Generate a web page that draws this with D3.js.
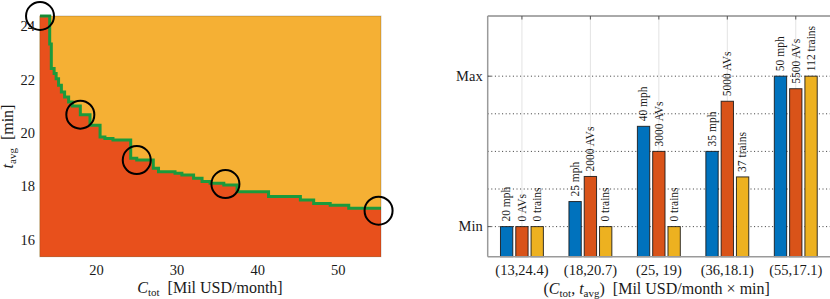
<!DOCTYPE html>
<html><head><meta charset="utf-8">
<script src="https://cdn.jsdelivr.net/npm/d3@7"></script>
<style>
body{margin:0;background:#fff;}
svg{display:block;}
svg text{font-family:'Liberation Serif','DejaVu Serif',serif;}
</style></head><body>
<svg id="c" width="830" height="299" font-family="Liberation Serif, DejaVu Serif, serif"></svg>
<script>
// ---- Left panel data (Pareto front, step) ----
const frontCost = [13.0,14.2,14.4,14.75,15.0,15.3,15.65,16.05,16.55,17.0,18.0,19.2,20.45,21.05,22.05,24.25,25.0,27.05,27.7,29.75,30.6,32.05,33.1,34.1,35.8,37.45,41.35,45.3,46.95,49.0,51.3,55.3];
const frontTime = [24.4,23.35,22.43,22.24,22.05,21.8,21.55,21.36,21.18,21.03,20.7,20.3,19.86,19.81,19.75,19.07,19.0,18.69,18.56,18.5,18.44,18.32,18.19,18.13,18.06,17.81,17.63,17.5,17.37,17.3,17.19,17.19];
const highlightCost = [13,18,25,36,55];
const highlightTime = [24.4,20.7,19,18.1,17.1];
const leftXTicks = [20,30,40,50];
const leftYTicks = [16,18,20,22,24];

// ---- Right panel data ----
const groupLabels = ["(13,24.4)","(18,20.7)","(25, 19)","(36,18.1)","(55,17.1)"];
const speeds = [20,25,40,35,50];
const avs = [0,2000,3000,5000,5500];
const trains = [0,0,0,37,112];
const speedRange = [20,50], avRange = [0,6000], trainRange = [0,112];
const rightYTicks = [0,1];
const rightYTickLabels = ["Min","Max"];
const rightGrid = [0,0.25,0.5,0.75,1];

const FONT = "Liberation Serif, DejaVu Serif, serif";
const svg = d3.select("#c");
const txt = "#1a1a1a";

// ================= LEFT =================
const x = d3.scaleLinear().domain([12.96,55.3]).range([39.7,381]);
const y = d3.scaleLinear().domain([15.375,24.4]).range([256.7,16]);
const L = svg.append("g");
const front = frontCost.map((c,i)=>[c,frontTime[i]]);

L.append("rect").attr("x",x.range()[0]).attr("y",y.range()[1])
 .attr("width",x.range()[1]-x.range()[0]).attr("height",y.range()[0]-y.range()[1])
 .attr("fill","#F5B034");
L.append("path").datum(front)
 .attr("d",d3.area().curve(d3.curveStepAfter).x(d=>x(d[0])).y0(y.range()[0]).y1(d=>y(d[1])))
 .attr("fill","#E8501C");
L.append("path").datum(front)
 .attr("d",d3.line().curve(d3.curveStepAfter).x(d=>x(d[0])).y(d=>y(d[1])))
 .attr("fill","none").attr("stroke","#1B9A3C").attr("stroke-width",3);
L.append("rect").attr("x",x.range()[0]).attr("y",y.range()[1])
 .attr("width",x.range()[1]-x.range()[0]).attr("height",y.range()[0]-y.range()[1])
 .attr("fill","none").attr("stroke","rgba(0,0,0,0.2)").attr("stroke-width",1);
L.selectAll("circle.h").data(highlightCost).join("circle")
 .attr("cx",d=>x(d)).attr("cy",(d,i)=>y(highlightTime[i])).attr("r",14)
 .attr("fill","none").attr("stroke","#000").attr("stroke-width",2);

L.selectAll("text.xt").data(leftXTicks).join("text")
 .attr("x",d=>x(d)).attr("y",275).attr("text-anchor","middle").attr("font-family",FONT)
 .attr("font-size",14.5).attr("fill",txt).text(d=>d);
L.selectAll("text.yt").data(leftYTicks).join("text")
 .attr("x",35).attr("y",d=>y(d)).attr("dy","0.33em").attr("text-anchor","end").attr("font-family",FONT)
 .attr("font-size",14.5).attr("fill",txt).text(d=>d);

const xl = L.append("text").attr("x",210).attr("y",293).attr("text-anchor","middle").attr("font-family",FONT)
 .attr("font-size",16).attr("fill",txt);
xl.append("tspan").attr("font-style","italic").text("C");
xl.append("tspan").attr("font-size",11).attr("dy",3).text("tot");
xl.append("tspan").attr("dy",-3).text("\u2002[Mil USD/month]");

const yl = L.append("text").attr("transform","translate(13,136.5) rotate(-90)").attr("font-family",FONT)
 .attr("text-anchor","middle").attr("font-size",16).attr("fill",txt);
yl.append("tspan").attr("font-style","italic").text("t");
yl.append("tspan").attr("font-size",11).attr("dy",3).text("avg");
yl.append("tspan").attr("dy",-3).text("\u2002[min]");

// ================= RIGHT =================
const xr = d3.scaleLinear().domain([0.5,5.5]).range([487.7,830]);
const yr = d3.scaleLinear().domain([-0.2,1.4]).range([256.7,16]);
const inner = d3.scalePoint().domain([0,1,2]).range([-0.2234,0.2234]);
const bw = xr(0.18)-xr(0);
const R = svg.append("g");
const groups = groupLabels.map((g,i)=>i+1);

R.selectAll("line.vg").data(groups).join("line")
 .attr("x1",d=>xr(d)).attr("x2",d=>xr(d)).attr("y1",yr.range()[1]).attr("y2",yr.range()[0])
 .attr("stroke","#e3e3e3").attr("stroke-width",1);
R.selectAll("line.hg").data(rightGrid).join("line")
 .attr("x1",xr.range()[0]).attr("x2",xr.range()[1]).attr("y1",d=>yr(d)).attr("y2",d=>yr(d))
 .attr("stroke","#3a3a3a").attr("stroke-width",1).attr("stroke-dasharray","1 2.6");

const norm = (v,r)=>(v-r[0])/(r[1]-r[0]);
const series = [
  {vals:speeds, range:speedRange, color:"#0072BD", unit:" mph"},
  {vals:avs, range:avRange, color:"#D95319", unit:" AVs"},
  {vals:trains, range:trainRange, color:"#EDB120", unit:" trains"}
];
const bars = [];
series.forEach((s,j)=>s.vals.forEach((v,i)=>bars.push({g:i+1,j,v:norm(v,s.range),label:v+s.unit,color:s.color})));

R.selectAll("rect.bar").data(bars).join("rect")
 .attr("x",d=>xr(d.g+inner(d.j))-bw/2).attr("width",bw)
 .attr("y",d=>yr(d.v)).attr("height",d=>yr(-0.2)-yr(d.v))
 .attr("fill",d=>d.color).attr("stroke","rgba(20,20,20,0.85)").attr("stroke-width",1);
R.selectAll("text.bl").data(bars).join("text")
 .attr("transform",d=>`translate(${xr(d.g+inner(d.j))},${yr(d.v)-5}) rotate(-90)`).attr("font-family",FONT)
 .attr("dy","0.33em").attr("font-size",11.5).attr("fill",txt).text(d=>d.label);

// frame
R.append("line").attr("x1",xr.range()[0]).attr("x2",xr.range()[1]).attr("y1",yr.range()[1]).attr("y2",yr.range()[1])
 .attr("stroke","#555").attr("stroke-width",1);
R.append("line").attr("x1",xr.range()[0]).attr("x2",xr.range()[1]).attr("y1",yr.range()[0]).attr("y2",yr.range()[0])
 .attr("stroke","#9a9a9a").attr("stroke-width",1.5);
R.append("line").attr("x1",xr.range()[0]).attr("x2",xr.range()[0]).attr("y1",yr.range()[1]).attr("y2",yr.range()[0])
 .attr("stroke","#9a9a9a").attr("stroke-width",1.5);
R.selectAll("line.tt").data(groups).join("line")
 .attr("x1",d=>xr(d)).attr("x2",d=>xr(d)).attr("y1",yr.range()[1]).attr("y2",yr.range()[1]+3.5)
 .attr("stroke","#555");
R.selectAll("line.yt").data(rightYTicks).join("line")
 .attr("x1",xr.range()[0]).attr("x2",xr.range()[0]+3.5).attr("y1",d=>yr(d)).attr("y2",d=>yr(d))
 .attr("stroke","#555");

R.selectAll("text.xt").data(groups).join("text")
 .attr("x",d=>xr(d)).attr("y",274.5).attr("text-anchor","middle").attr("font-family",FONT)
 .attr("font-size",14.5).attr("fill",txt).text((d,i)=>groupLabels[i]);
R.selectAll("text.ytl").data(rightYTicks).join("text")
 .attr("x",482.7).attr("y",d=>yr(d)).attr("dy","0.33em").attr("text-anchor","end").attr("font-family",FONT)
 .attr("font-size",14.5).attr("fill",txt).text((d,i)=>rightYTickLabels[i]);

const rl = R.append("text").attr("x",656.7).attr("y",293.5).attr("text-anchor","middle").attr("font-family",FONT)
 .attr("font-size",16).attr("fill",txt);
rl.append("tspan").text("(");
rl.append("tspan").attr("font-style","italic").text("C");
rl.append("tspan").attr("font-size",11).attr("dy",3).text("tot");
rl.append("tspan").attr("dy",-3).text(", ");
rl.append("tspan").attr("font-style","italic").text("t");
rl.append("tspan").attr("font-size",11).attr("dy",3).text("avg");
rl.append("tspan").attr("dy",-3).text(")\u2002[Mil USD/month \u00d7 min]");
</script>
</body></html>
